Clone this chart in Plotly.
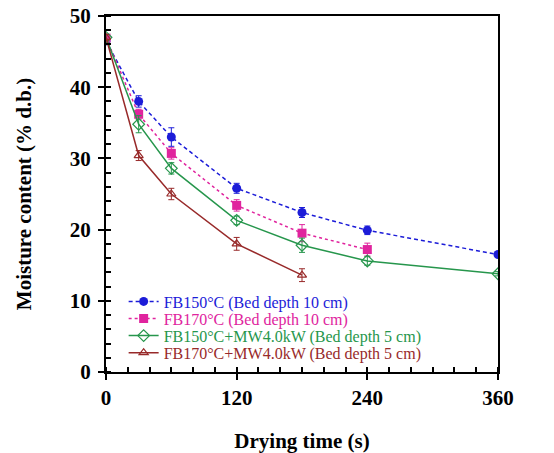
import plotly.graph_objects as go

# Data
time_a = [0, 30, 60, 120, 180, 240, 360]
fb150 = [46.5, 38.0, 33.0, 25.8, 22.4, 19.9, 16.5]
fb150_err = [0.4, 0.8, 1.3, 0.7, 0.7, 0.6, 0.2]

time_b = [0, 30, 60, 120, 180, 240]
fb170 = [46.9, 36.2, 30.7, 23.4, 19.5, 17.2]
fb170_err = [0.4, 0.7, 0.8, 0.8, 1.2, 0.9]

time_c = [0, 30, 60, 120, 180, 240, 360]
fb150mw = [47.0, 34.8, 28.6, 21.3, 17.8, 15.6, 13.8]
fb150mw_err = [0.4, 1.2, 0.8, 0.6, 1.0, 0.6, 0.3]

time_d = [0, 30, 60, 120, 180]
fb170mw = [47.0, 30.4, 25.0, 18.0, 13.6]
fb170mw_err = [0.4, 0.7, 0.8, 0.9, 0.9]

names = [
    "FB150°C (Bed depth 10 cm)",
    "FB170°C (Bed depth 10 cm)",
    "FB150°C+MW4.0kW (Bed depth 5 cm)",
    "FB170°C+MW4.0kW (Bed depth 5 cm)",
]
colors = ["#1c1cd8", "#e0249e", "#26964c", "#982a2a"]

FONT = "Liberation Serif"

fig = go.Figure()

series = [
    (time_a, fb150, fb150_err, dict(symbol="circle", size=9), dict(dash="4px,3px", width=1.5)),
    (time_b, fb170, fb170_err, dict(symbol="square", size=9), dict(dash="3px,3px", width=1.5)),
    (time_c, fb150mw, fb150mw_err, dict(symbol="diamond-open", size=9, line=dict(width=1.2)), dict(dash="solid", width=1.5)),
    (time_d, fb170mw, fb170mw_err, dict(symbol="triangle-up-open", size=8, line=dict(width=1.2)), dict(dash="solid", width=1.5)),
]

legend_ids = ["legend", "legend2", "legend3", "legend4"]

for (x, y, e, mk, ln), name, c, lg in zip(series, names, colors, legend_ids):
    mk = dict(mk, color=c)
    if "line" in mk:
        mk["line"] = dict(mk["line"], color=c)
    fig.add_trace(go.Scatter(
        x=x, y=y, mode="lines+markers",
        name=f'<span style="color:{c}">{name}</span>',
        line=dict(color=c, **ln),
        marker=mk,
        legend=lg,
        error_y=dict(type="data", array=e, visible=True, color=c, thickness=1, width=3),
    ))

axis_common = dict(
    showline=True, linecolor="black", linewidth=2, mirror=True,
    ticks="outside", ticklen=6, tickwidth=2, tickcolor="black",
    showgrid=False, zeroline=False, automargin=False,
    tickfont=dict(family=FONT, size=21, color="black", weight="bold"),
)

fig.update_xaxes(
    **axis_common,
    range=[0, 360], tickvals=[0, 120, 240, 360],
    minor=dict(dtick=20, ticks="inside", ticklen=5, tickwidth=1.5, tickcolor="black"),
    title=dict(text="<b>Drying time (s)</b>", font=dict(family=FONT, size=21, color="black"), standoff=30),
)
fig.update_yaxes(
    **axis_common,
    range=[0, 50], tickvals=[0, 10, 20, 30, 40, 50],
    ticklabelstandoff=3,
    minor=dict(dtick=2, ticks="inside", ticklen=5, tickwidth=1.5, tickcolor="black"),
    title=dict(text="<b>Moisture content (% d.b.)</b>", font=dict(family=FONT, size=21, color="black"), standoff=32),
)

legend_y = [0.198, 0.150, 0.102, 0.054]
leg_layout = {}
for lg, yy in zip(legend_ids, legend_y):
    leg_layout[lg] = dict(
        x=0.045, y=yy, xanchor="left", yanchor="middle",
        bgcolor="rgba(0,0,0,0)", borderwidth=0,
        font=dict(family=FONT, size=16),
        itemwidth=30,
    )

fig.update_layout(
    width=554, height=453,
    margin=dict(l=106, r=56, t=16, b=81),
    paper_bgcolor="white", plot_bgcolor="white",
    showlegend=True,
    **leg_layout,
)

fig.write_html("out.html")
